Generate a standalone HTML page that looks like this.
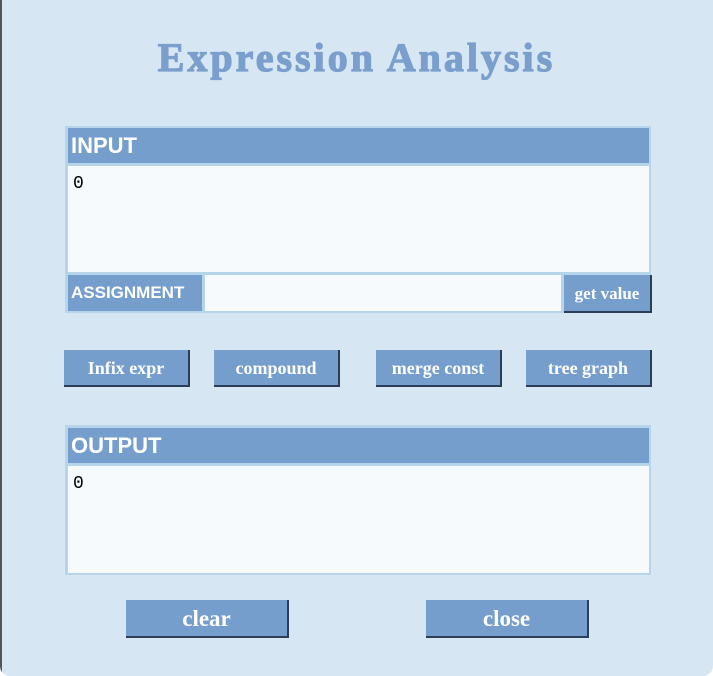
<!DOCTYPE html>
<html><head><style>
*{margin:0;padding:0;box-sizing:border-box}
body{width:713px;height:676px;background:#fff;position:relative;overflow:hidden;font-family:"Liberation Sans",sans-serif}
.win{position:absolute;left:0;top:0;width:713px;height:676px;background:#d6e6f3;border-radius:0 0 10px 10px;overflow:hidden}
.edge{position:absolute;left:0;top:0;width:2px;height:676px;background:#555}
.a{position:absolute}
.title{left:0;width:713px;top:34px;text-align:center;font-family:"Liberation Serif",serif;font-weight:bold;font-size:40px;color:#7a9fcd;letter-spacing:3px;-webkit-text-stroke:1.2px #7a9fcd}
.panel{background:#b6d4ea}
.hdr{background:#759ecd;color:#fff;font-weight:bold;font-size:22px;padding-left:3px;line-height:35px}
.txt{background:#f6fafc;font-family:"Liberation Mono",monospace;font-size:18px;padding:8px 0 0 5px;color:#000}
.btn{background:#759ecd;color:#fff;font-family:"Liberation Serif",serif;font-weight:bold;font-size:18px;text-align:center;border-right:2px solid #2c3e55;border-bottom:2px solid #2c3e55}
</style></head><body>
<div class="win">
<div class="edge"></div>
<div class="a title">Expression Analysis</div>
<div class="a panel" style="left:65px;top:126px;width:586px;height:187px"></div>
<div class="a hdr" style="left:68px;top:128px;width:581px;height:35px">INPUT</div>
<div class="a txt" style="left:68px;top:166px;width:581px;height:106px">0</div>
<div class="a hdr" style="left:68px;top:275px;width:134px;height:36px;font-size:17px;line-height:36px">ASSIGNMENT</div>
<div class="a" style="left:205px;top:275px;width:356px;height:36px;background:#f6fafc"></div>
<div class="a btn" style="left:564px;top:275px;width:88px;height:38px;line-height:38px;font-size:17px">get value</div>
<div class="a btn" style="left:64px;top:350px;width:126px;height:37px;line-height:36px">Infix expr</div>
<div class="a btn" style="left:214px;top:350px;width:126px;height:37px;line-height:36px">compound</div>
<div class="a btn" style="left:376px;top:350px;width:126px;height:37px;line-height:36px">merge const</div>
<div class="a btn" style="left:526px;top:350px;width:126px;height:37px;line-height:36px">tree graph</div>
<div class="a panel" style="left:65px;top:425px;width:586px;height:150px"></div>
<div class="a hdr" style="left:68px;top:428px;width:581px;height:35px">OUTPUT</div>
<div class="a txt" style="left:68px;top:466px;width:581px;height:107px">0</div>
<div class="a btn" style="left:126px;top:600px;width:163px;height:38px;line-height:38px;font-size:23px">clear</div>
<div class="a btn" style="left:426px;top:600px;width:163px;height:38px;line-height:38px;font-size:23px">close</div>
</div>
</body></html>
